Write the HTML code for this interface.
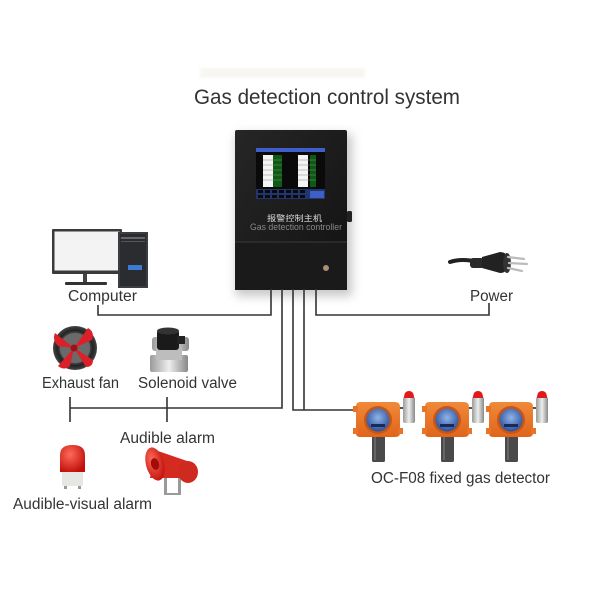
<!DOCTYPE html>
<html><head><meta charset="utf-8"><style>
html,body{margin:0;padding:0;background:#fff;}
svg{display:block;}
text{font-family:"Liberation Sans","Noto Sans CJK SC",sans-serif;fill:#333;}
</style></head><body>
<svg width="600" height="600" viewBox="0 0 600 600" xmlns="http://www.w3.org/2000/svg">
<defs>
<filter id="blur" x="-30%" y="-30%" width="160%" height="160%"><feGaussianBlur stdDeviation="5"/></filter>
<filter id="blur2"><feGaussianBlur stdDeviation="1.5"/></filter>
<linearGradient id="ctrl" x1="0" y1="0" x2="1" y2="1"><stop offset="0" stop-color="#262626"/><stop offset="1" stop-color="#121212"/></linearGradient>
<radialGradient id="fanring" cx="0.5" cy="0.5" r="0.5"><stop offset="0.55" stop-color="#777"/><stop offset="0.8" stop-color="#222"/><stop offset="1" stop-color="#444"/></radialGradient>
<linearGradient id="silver" x1="0" y1="0" x2="1" y2="0"><stop offset="0" stop-color="#9a9a9a"/><stop offset="0.5" stop-color="#eee"/><stop offset="1" stop-color="#888"/></linearGradient>
<linearGradient id="orange" x1="0" y1="0" x2="0" y2="1"><stop offset="0" stop-color="#f08a3a"/><stop offset="1" stop-color="#e0641a"/></linearGradient>
<radialGradient id="lcd" cx="0.5" cy="0.4" r="0.6"><stop offset="0" stop-color="#8fb4e8"/><stop offset="1" stop-color="#2c4f9a"/></radialGradient>
<radialGradient id="red" cx="0.4" cy="0.35" r="0.7"><stop offset="0" stop-color="#ff6a5a"/><stop offset="1" stop-color="#c0100a"/></radialGradient>
</defs>

<rect x="200" y="68" width="165" height="10" fill="#f8f6f1" filter="url(#blur2)"/>

<text x="194" y="104" font-size="21" textLength="266" lengthAdjust="spacingAndGlyphs">Gas detection control system</text>

<rect x="236" y="134" width="116" height="162" fill="#999" opacity="0.55" filter="url(#blur)"/>
<rect x="235" y="130" width="112" height="160" rx="2" fill="url(#ctrl)"/>
<rect x="235" y="242" width="112" height="48" fill="#1a1a1a"/>
<line x1="235" y1="242" x2="347" y2="242" stroke="#3a3a3a" stroke-width="1"/>
<rect x="347" y="211" width="5" height="11" rx="1.5" fill="#222"/>
<rect x="256" y="148" width="69" height="51" fill="#0a0a0a"/>
<rect x="256" y="148" width="69" height="4" fill="#3f5fc8"/>
<rect x="263" y="155" width="10" height="32" fill="#f4f4f4"/>
<rect x="273" y="155" width="9" height="32" fill="#0d5a12"/>
<rect x="298" y="155" width="10" height="32" fill="#f4f4f4"/>
<rect x="310" y="155" width="6" height="32" fill="#0d5a12"/>
<g stroke="#888" stroke-width="0.5">
<line x1="263" y1="160" x2="282" y2="160"/><line x1="263" y1="165" x2="282" y2="165"/><line x1="263" y1="170" x2="282" y2="170"/><line x1="263" y1="175" x2="282" y2="175"/><line x1="263" y1="180" x2="282" y2="180"/>
<line x1="298" y1="160" x2="316" y2="160"/><line x1="298" y1="165" x2="316" y2="165"/><line x1="298" y1="170" x2="316" y2="170"/><line x1="298" y1="175" x2="316" y2="175"/><line x1="298" y1="180" x2="316" y2="180"/>
</g>
<rect x="256" y="189" width="69" height="10" fill="#23356f"/>
<g fill="#0a0a0a">
<rect x="258" y="190" width="5" height="3"/><rect x="265" y="190" width="5" height="3"/><rect x="272" y="190" width="5" height="3"/><rect x="279" y="190" width="5" height="3"/><rect x="286" y="190" width="5" height="3"/><rect x="293" y="190" width="5" height="3"/><rect x="300" y="190" width="5" height="3"/>
<rect x="258" y="195" width="5" height="3"/><rect x="265" y="195" width="5" height="3"/><rect x="272" y="195" width="5" height="3"/><rect x="279" y="195" width="5" height="3"/><rect x="286" y="195" width="5" height="3"/><rect x="293" y="195" width="5" height="3"/><rect x="300" y="195" width="5" height="3"/>
</g>
<rect x="310" y="191" width="14" height="7" fill="#3f5fc8"/>
<text x="267" y="221" font-size="8" style="fill:#ddd" textLength="55" lengthAdjust="spacingAndGlyphs">报警控制主机</text>
<text x="250" y="230" font-size="9.5" style="fill:#888" textLength="92" lengthAdjust="spacingAndGlyphs">Gas detection controller</text>
<circle cx="326" cy="268" r="3" fill="#a89070"/>

<g fill="none" stroke="#333" stroke-width="1.6">
<path d="M98,305 V315 H271 V289"/>
<path d="M489,303 V315 H316 V289"/>
<path d="M282,289 V408 H70"/>
<path d="M70,397 V422 M167,397 V422"/>
<path d="M293,289 V410 H357"/>
<path d="M304,289 V410"/>
</g>

<rect x="52" y="229" width="70" height="45" rx="1" fill="#3a3a3a"/>
<rect x="54.5" y="231.5" width="65" height="39" fill="#f3f3f3"/>
<rect x="83" y="274" width="4" height="9" fill="#444"/>
<rect x="65" y="282" width="42" height="3" rx="1" fill="#333"/>
<rect x="118" y="232" width="30" height="56" fill="#3a3d42"/>
<rect x="120" y="234" width="26" height="52" fill="#2a2c30"/>
<rect x="121" y="237" width="24" height="2" fill="#666"/>
<rect x="121" y="241" width="24" height="1" fill="#555"/>
<rect x="128" y="265" width="14" height="5" fill="#3b7bd6"/>
<text x="68" y="301" font-size="15.5" textLength="69" lengthAdjust="spacingAndGlyphs">Computer</text>

<path d="M450,262 Q462,258 478,262" stroke="#222" stroke-width="4" fill="none" stroke-linecap="round"/>
<rect x="470" y="258" width="14" height="10" rx="3" fill="#2a2a2a"/>
<path d="M482,257 L500,252 Q508,252 509,262 Q508,273 500,273 L482,268 Z" fill="#222"/>
<ellipse cx="507" cy="263" rx="4" ry="10" fill="#333"/>
<g stroke="#bbb" stroke-width="2.2" stroke-linecap="round">
<line x1="508" y1="257" x2="524" y2="259"/>
<line x1="508" y1="268" x2="522" y2="271"/>
<line x1="509" y1="263" x2="527" y2="264"/>
</g>
<text x="470" y="301" font-size="15.5" textLength="43" lengthAdjust="spacingAndGlyphs">Power</text>

<!-- Exhaust fan -->
<circle cx="75" cy="348" r="22" fill="url(#fanring)"/>
<circle cx="75" cy="348" r="15" fill="#6a6a6a"/>
<g fill="#dc1f28">
<path d="M74,348 L55,333 Q52,340 58,346 Z"/>
<path d="M74,348 L88,328 Q95,332 92,340 Z"/>
<path d="M74,348 L58,366 Q64,371 70,366 Z"/>
<path d="M74,348 L93,360 Q93,367 86,367 Z"/>
</g>
<circle cx="74" cy="348" r="3.5" fill="#a01018"/>
<text x="42" y="388" font-size="15.5" textLength="77" lengthAdjust="spacingAndGlyphs">Exhaust fan</text>

<rect x="152" y="337" width="37" height="14" rx="3" fill="url(#silver)"/>
<rect x="150" y="355" width="38" height="17" rx="2" fill="url(#silver)"/>
<rect x="156" y="348" width="26" height="12" fill="#bdbdbd"/>
<rect x="157" y="330" width="22" height="20" rx="3" fill="#1a1a1a"/>
<ellipse cx="168" cy="331" rx="11" ry="3.5" fill="#333"/>
<rect x="177" y="336" width="8" height="8" fill="#222"/>
<text x="138" y="388" font-size="15.5" textLength="99" lengthAdjust="spacingAndGlyphs">Solenoid valve</text>

<text x="120" y="443" font-size="15.5" textLength="95" lengthAdjust="spacingAndGlyphs">Audible alarm</text>
<g>
<rect x="164" y="470" width="3" height="25" fill="#9a9a9a"/>
<rect x="178" y="472" width="3" height="23" fill="#9a9a9a"/>
<rect x="164" y="493" width="17" height="2" fill="#9a9a9a"/>
<path d="M155,450 L190,462 Q200,468 195,478 L150,478 Z" fill="#d42a20"/>
<ellipse cx="155" cy="464" rx="9" ry="17" transform="rotate(-15 155 464)" fill="url(#red)"/>
<ellipse cx="155" cy="464" rx="4" ry="6" transform="rotate(-15 155 464)" fill="#a30d08"/>
<ellipse cx="188" cy="472" rx="10" ry="11" fill="#cf2a1f"/>
</g>

<rect x="62" y="470" width="21" height="16" rx="2" fill="#e6e6e2"/>
<rect x="62" y="470" width="21" height="2" fill="#c8c8c4"/>
<rect x="64" y="486" width="3" height="3" fill="#999"/><rect x="78" y="486" width="3" height="3" fill="#999"/>
<path d="M60,472 L60,455 Q60,445 72.5,445 Q85,445 85,455 L85,472 Z" fill="url(#red)"/>
<text x="13" y="509" font-size="15.5" textLength="139" lengthAdjust="spacingAndGlyphs">Audible-visual alarm</text>

<g id="det">
<line x1="400" y1="408" x2="404" y2="408" stroke="#555" stroke-width="2"/>
<rect x="403" y="397" width="12" height="26" rx="2" fill="url(#silver)"/>
<path d="M404,398 Q404,391 409,391 Q414,391 414,398 Z" fill="#e01a1a"/>
<rect x="372" y="435" width="13" height="27" rx="1.5" fill="#4a4a4a"/>
<rect x="374" y="437" width="2" height="23" fill="#666"/>
<path d="M360,402 L395,402 Q400,402 400,407 L400,433 Q400,437 395,437 L360,437 Q356,437 356,433 L356,407 Q356,402 360,402 Z" fill="url(#orange)"/>
<rect x="353" y="406" width="5" height="6" fill="#e8742a"/>
<rect x="353" y="428" width="5" height="6" fill="#e8742a"/>
<rect x="398" y="428" width="5" height="6" fill="#e8742a"/>
<circle cx="378" cy="420" r="14" fill="#c45718"/>
<circle cx="378" cy="420" r="11.5" fill="url(#lcd)"/>
<rect x="371" y="424" width="14" height="3" fill="#1a2a55"/>
</g>
<use href="#det" x="69" y="0"/>
<use href="#det" x="133" y="0"/>
<text x="371" y="483" font-size="15.5" textLength="179" lengthAdjust="spacingAndGlyphs">OC-F08 fixed gas detector</text>
</svg>
</body></html>
